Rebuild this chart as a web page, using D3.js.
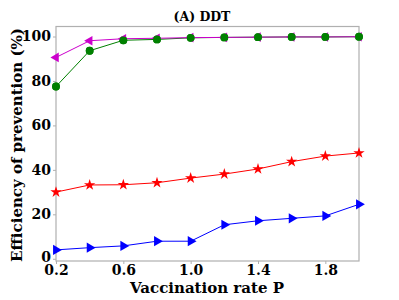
<!DOCTYPE html>
<html><head><meta charset="utf-8">
<script src="https://cdn.jsdelivr.net/npm/d3@7"></script>
</head><body style="margin:0;background:#fff">
<svg id="c" width="399" height="300" style="display:block">
<text id="ttl" x="202" y="21" text-anchor="middle" style="font-family:'DejaVu Serif';font-weight:bold;font-size:12.5px"></text>
<text id="xl" x="207" y="293" text-anchor="middle" style="font-family:'DejaVu Serif';font-weight:bold;font-size:15px"></text>
<text id="yl" transform="translate(22,145) rotate(-90)" text-anchor="middle" style="font-family:'DejaVu Serif';font-weight:bold;font-size:15px"></text>
</svg>
<script>
const xValues = [0.2,0.4,0.6,0.8,1.0,1.2,1.4,1.6,1.8,2.0];
const greenCircle = [77.5,93.6,98.3,98.7,99.4,99.6,99.7,99.8,99.8,99.9];
const magentaTri = [90.6,98.1,99.0,99.2,99.5,99.6,99.7,99.8,99.8,99.9];
const redStar = [30.0,33.2,33.3,34.2,36.3,38.1,40.4,43.7,46.2,47.6];
const blueTri = [4.0,5.0,5.8,7.9,7.9,15.3,17.1,18.2,19.3,24.5];
const xTicks = [0.2,0.6,1.0,1.4,1.8];
const yTicks = [0,20,40,60,80,100];
const title = "(A) DDT", xLabel = "Vaccination rate P", yLabel = "Efficiency of prevention (%)";

const svg = d3.select("#c");
const L=56,R=359,T=26.5,B=261;
const x = d3.scaleLinear().domain([0.2,2.0]).range([L,R]);
const y = d3.scaleLinear().domain([-1,104.5]).range([B,T]);

svg.insert("rect","text").attr("x",L).attr("y",T).attr("width",R-L).attr("height",B-T)
  .attr("fill","none").attr("stroke","#b0b0b0").attr("stroke-width",1.2);

const xa = svg.append("g").attr("transform",`translate(0,${B})`)
  .call(d3.axisBottom(x).tickValues(xTicks).tickFormat(d3.format(".1f")).tickSize(3).tickPadding(1));
const ya = svg.append("g").attr("transform",`translate(${L},0)`)
  .call(d3.axisLeft(y).tickValues(yTicks).tickSize(3).tickPadding(2));
[xa,ya].forEach(a=>{a.attr("font-family","DejaVu Serif").attr("font-size",14).attr("font-weight","bold");
  a.select(".domain").remove();a.selectAll("line").attr("stroke","#b0b0b0");
  a.selectAll("text").attr("fill","#000");});
ya.selectAll(".tick").filter(d=>d===0).select("text").attr("dy","0.2em");

const line = d3.line().x((d,i)=>x(xValues[i])).y(d=>y(d));
function series(data,color,sym,size,rot){
  svg.append("path").datum(data).attr("d",line).attr("fill","none").attr("stroke",color).attr("stroke-width",1);
  svg.append("g").selectAll("path").data(data).join("path")
    .attr("transform",(d,i)=>`translate(${x(xValues[i])},${y(d)}) rotate(${rot})`)
    .attr("d",d3.symbol().type(sym).size(size)).attr("fill",color);
}
series(redStar,"#ff0000",d3.symbolStar,40,0);
series(blueTri,"#0000ff",d3.symbolTriangle,45,90);
series(greenCircle,"#008000",d3.symbolCircle,48,0);
series(magentaTri,"#cc00cc",d3.symbolTriangle,40,-90);
svg.append("g").selectAll("circle").data(greenCircle).join("circle")
  .attr("cx",(d,i)=>x(xValues[i])).attr("cy",d=>y(d)).attr("r",3.9).attr("fill","#008000");

d3.select("#ttl").text(title);
d3.select("#xl").text(xLabel);
d3.select("#yl").text(yLabel);
</script>
</body></html>
